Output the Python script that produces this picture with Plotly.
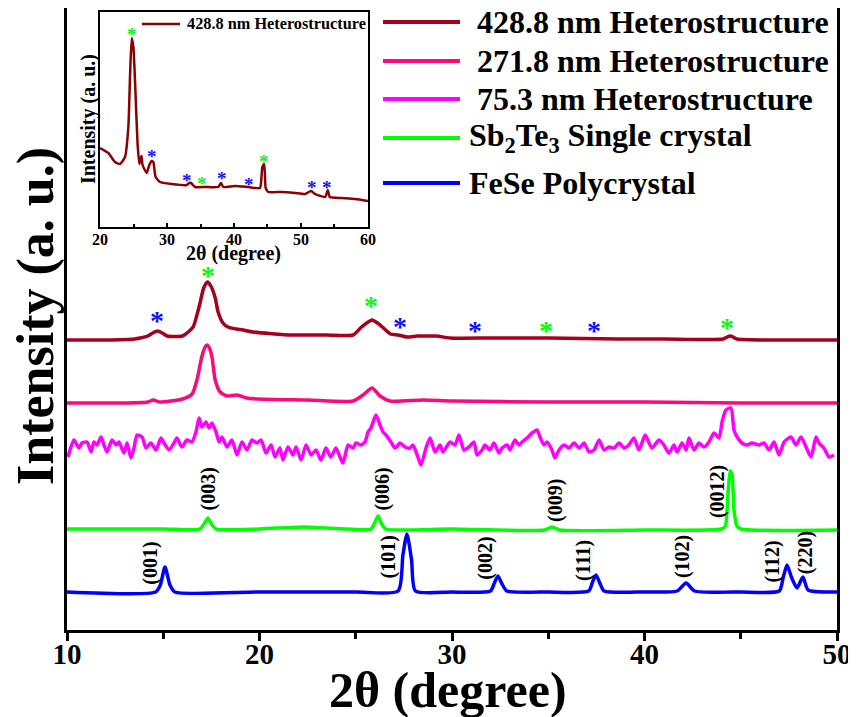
import plotly.graph_objects as go

FONT = "Liberation Serif"

# ---------------- main panel data (2θ in degree, stacked intensity a.u.) ----------------
x_428 = [10.0, 12.0, 13.5, 13.8, 14.2, 14.45, 14.7, 14.95, 15.2, 16.0, 16.55, 16.75, 16.9, 17.1,
         17.3, 17.5, 17.7, 17.85, 18.1, 18.36, 18.8, 19.15, 19.66, 21.7, 23.5, 24.86, 25.3, 25.85,
         26.26, 26.8, 27.2, 27.66, 28.2, 28.7, 29.2, 29.9, 32.0, 35.0, 38.6, 41.0, 44.1, 44.3, 44.45,
         44.6, 44.8, 47.0, 50.0]
y_428 = [290, 290, 291, 292, 294, 297, 299, 297, 294, 294, 303, 315, 326, 342,
         348, 343, 332, 318, 307, 303, 301, 300, 298, 295, 295, 295, 303, 310,
         305, 296, 295, 293, 294, 294, 294, 292, 292, 292, 291, 291, 291, 293, 294,
         293, 291, 290, 290]

x_271 = [10.0, 13.0, 14.2, 14.47, 14.8, 16.0, 16.5, 16.75, 17.0, 17.15, 17.27, 17.4, 17.53, 17.7,
         17.95, 18.3, 18.83, 19.35, 20.0, 22.5, 24.86, 25.38, 25.85, 26.26, 26.78, 28.5, 30.0, 35.0,
         40.0, 45.0, 50.0]
y_271 = [227, 227, 228, 230, 228, 231, 236, 250, 273, 282, 285, 282, 273, 250,
         238, 234, 235, 232, 231, 230, 229, 235, 242, 234, 229, 230, 229, 228,
         228, 227, 227]

x_75 = [10.05, 10.36, 10.62, 10.78, 11.04, 11.25, 11.40, 11.56, 11.77, 11.92, 12.08, 12.34, 12.55,
        12.70, 12.96, 13.12, 13.32, 13.48, 13.64, 13.90, 14.10, 14.36, 14.62, 14.88, 15.04, 15.30,
        15.56, 15.71, 15.97, 16.23, 16.49, 16.70, 16.86, 17.01, 17.22, 17.38, 17.53, 17.74, 17.90,
        18.05, 18.31, 18.57, 18.83, 19.09, 19.35, 19.61, 19.87, 20.08, 20.34, 20.60, 20.81, 21.06,
        21.22, 21.48, 21.74, 21.90, 22.16, 22.42, 22.68, 22.94, 23.19, 23.45, 23.71, 23.97, 24.18,
        24.34, 24.60, 24.86, 25.01, 25.27, 25.48, 25.64, 25.79, 26.05, 26.26, 26.42, 26.57, 26.83,
        27.04, 27.30, 27.56, 27.82, 27.97, 28.23, 28.39, 28.65, 28.86, 29.12, 29.38, 29.53, 29.90,
        30.16, 30.36, 30.62, 30.88, 31.14, 31.30, 31.56, 31.71, 31.97, 32.18, 32.44, 32.60, 32.86,
        33.01, 33.27, 33.48, 33.64, 33.90, 34.16, 34.42, 34.57, 34.78, 34.94, 35.19, 35.35, 35.56,
        35.82, 36.08, 36.34, 36.60, 36.86, 37.12, 37.38, 37.64, 37.90, 38.16, 38.42, 38.68, 38.94,
        39.19, 39.45, 39.71, 40.03, 40.13, 40.39, 40.75, 41.01, 41.27, 41.53, 41.69, 41.95, 42.16,
        42.31, 42.57, 42.83, 43.09, 43.35, 43.61, 43.87, 44.03, 44.23, 44.49, 44.65, 44.81, 45.06,
        45.32, 45.58, 45.95, 46.21, 46.47, 46.73, 46.99, 47.25, 47.61, 47.87, 48.13, 48.39, 48.65,
        48.91, 49.06, 49.32, 49.58, 49.84]
y_75 = [173, 190, 182, 187, 188, 178, 188, 185, 193, 185, 178, 190, 185,
        188, 177, 187, 172, 182, 195, 193, 182, 187, 180, 192, 187, 180,
        187, 192, 183, 190, 188, 198, 212, 203, 208, 202, 207, 198, 188,
        193, 183, 190, 175, 188, 180, 190, 187, 190, 177, 185, 173, 182,
        170, 183, 175, 183, 170, 185, 175, 180, 170, 182, 173, 182, 173,
        167, 185, 182, 187, 185, 188, 198, 202, 215, 205, 198, 195, 188,
        182, 187, 183, 182, 185, 173, 165, 182, 192, 178, 185, 178, 188,
        185, 195, 180, 183, 188, 175, 180, 185, 180, 187, 177, 182, 185,
        180, 190, 185, 188, 192, 197, 200, 193, 185, 188, 180, 172, 180,
        185, 182, 187, 182, 187, 178, 180, 190, 180, 183, 182, 187, 182,
        185, 192, 180, 195, 192, 182, 190, 185, 177, 185, 178, 187, 180,
        192, 180, 187, 183, 188, 197, 192, 208, 220, 222, 200, 193, 187,
        185, 187, 185, 187, 180, 188, 175, 188, 193, 185, 193, 183, 173,
        193, 187, 182, 173, 175]

x_sb = [10.0, 15.0, 16.9, 17.15, 17.32, 17.5, 17.75, 20.0, 22.3, 24.5, 25.8, 26.0, 26.16, 26.32,
        26.55, 30.0, 34.8, 35.2, 35.6, 40.0, 44.0, 44.2, 44.35, 44.45, 44.55, 44.65, 44.8, 45.0, 50.0]
y_sb = [101, 101, 101, 107, 112, 106, 101, 101, 103, 101, 101, 108, 114, 107,
        101, 101, 100, 103, 100, 100, 101, 104, 140, 159, 155, 120, 104, 101, 100]

x_fese = [10.0, 14.6, 14.85, 15.09, 15.35, 15.6, 20.0, 25.0, 27.2, 27.45, 27.66, 27.9, 28.1, 30.0,
          32.0, 32.2, 32.39, 32.6, 32.85, 35.0, 37.1, 37.3, 37.48, 37.7, 37.9, 40.0, 41.7, 42.16,
          42.6, 45.0, 47.0, 47.2, 47.4, 47.65, 47.92, 48.23, 48.5, 50.0]
y_fese = [38, 38, 45, 63, 45, 38, 38, 38, 39, 75, 96, 70, 39, 38,
          39, 47, 54, 46, 39, 38, 39, 48, 55, 46, 39, 38, 39, 47,
          39, 38, 39, 52, 65, 52, 42, 53, 40, 38]

# asterisk markers on the 428.8 nm pattern
star_blue_x = [14.68, 27.3, 31.2, 37.4]
star_blue_y = [312, 306, 302, 302]
star_green_x = [17.33, 25.8, 34.9, 44.3]
star_green_y = [357, 327, 302, 305]

# Miller indices
hkl_sb = ["(003)", "(006)", "(009)", "(0012)"]
hkl_sb_x = [17.35, 26.34, 35.35, 43.77]
hkl_sb_y = [141, 141, 130, 138]
hkl_fese = ["(001)", "(101)", "(002)", "(111)", "(102)", "(112)", "(220)"]
hkl_fese_x = [14.3, 26.7, 31.7, 36.8, 41.95, 46.6, 48.35]
hkl_fese_y = [67, 73, 72, 70, 73, 68, 77]

# ---------------- inset data ----------------
x_in = [20.0, 21.24, 22.24, 22.99, 23.73, 24.23, 24.48, 24.73, 24.98, 25.3, 25.6, 25.87, 26.05,
        26.2, 26.35, 26.97, 27.36, 27.7, 27.96, 28.3, 28.96, 30.7, 32.94, 33.3, 33.58, 34.18, 35.67,
        37.66, 38.06, 38.4, 40.15, 42.14, 43.88, 44.1, 44.23, 44.48, 44.6, 44.73, 45.12, 47.1, 49.1,
        50.6, 51.5, 52.1, 53.6, 54.0, 54.3, 56.1, 58.1, 60.0]
y_in = [79, 74, 65, 63, 70, 100, 150, 189, 180, 134, 84, 63, 68,
        71, 62, 54, 62, 66, 65, 50, 45, 43, 42, 44, 44, 40, 40,
        40, 44, 40, 41, 40, 39, 50, 60, 63, 55, 39, 35, 35, 34,
        33, 36, 33, 30, 37, 30, 29, 28, 26]
in_star_green_x = [24.73, 35.2, 44.48]
in_star_green_y = [194, 46, 68]
in_star_blue_x = [27.8, 32.94, 38.2, 42.24, 51.6, 53.9]
in_star_blue_y = [73, 49, 51, 45, 42, 42]

series = [
    ("428.8 nm Heterostructure", x_428, y_428, "#A5001E", True),
    ("271.8 nm Heterostructure", x_271, y_271, "#FA0A7D", True),
    ("75.3 nm Heterostructure", x_75, y_75, "#FF00FF", True),
    ("Sb<sub>2</sub>Te<sub>3</sub> Single crystal", x_sb, y_sb, "#00FF00", False),
    ("FeSe Polycrystal", x_fese, y_fese, "#0000FF", False),
]
BLUE_STAR = "#1010FF"
GREEN_STAR = "#00FF00"

fig = go.Figure()
for name, xs, ys, col, _ in reversed(series):
    fig.add_trace(go.Scatter(x=xs, y=ys, mode="lines", name=name, showlegend=False,
                             line=dict(color=col, width=3.5, shape="spline", smoothing=0.6)))

# inset trace
fig.add_trace(go.Scatter(x=x_in, y=y_in, mode="lines", name="428.8 nm Heterostructure",
                         xaxis="x2", yaxis="y2", showlegend=False,
                         line=dict(color="#8B0000", width=2.5, shape="spline", smoothing=0.5)))

annotations = []


def star(x, y, col, size, xref, yref, shift):
    return dict(x=x, y=y, xref=xref, yref=yref, text="*", showarrow=False, yshift=shift,
                font=dict(family=FONT, size=size, color=col, weight="bold"))


for xx, yy in zip(star_blue_x, star_blue_y):
    annotations.append(star(xx, yy, BLUE_STAR, 28, "x", "y", -2))
for xx, yy in zip(star_green_x, star_green_y):
    annotations.append(star(xx, yy, GREEN_STAR, 28, "x", "y", -2))
for xx, yy in zip(in_star_blue_x, in_star_blue_y):
    annotations.append(star(xx, yy, BLUE_STAR, 19, "x2", "y2", -2))
for xx, yy in zip(in_star_green_x, in_star_green_y):
    annotations.append(star(xx, yy, GREEN_STAR, 19, "x2", "y2", -2))

for lab, xx, yy in zip(hkl_sb + hkl_fese, hkl_sb_x + hkl_fese_x, hkl_sb_y + hkl_fese_y):
    annotations.append(dict(x=xx, y=yy, xref="x", yref="y", text=lab, showarrow=False,
                            textangle=-90, font=dict(family=FONT, size=20, color="black", weight="bold")))

# manual legend (long line samples)
leg_y = [0.9775, 0.9148, 0.8537, 0.7910, 0.7186]
shapes = []
for (name, _, _, col, pad), ly in zip(series, leg_y):
    shapes.append(dict(type="line", xref="paper", yref="paper", x0=0.4104, x1=0.5104, y0=ly, y1=ly,
                       line=dict(color=col, width=4)))
    annotations.append(dict(x=0.5195, y=ly, xref="paper", yref="paper", xanchor="left", yanchor="middle",
                            text=("\u00a0" + name) if pad else name, showarrow=False,
                            font=dict(family=FONT, size=32, color="black", weight="bold")))
# inset legend
shapes.append(dict(type="line", xref="paper", yref="paper", x0=0.0974, x1=0.1468, y0=0.9743, y1=0.9743,
                   line=dict(color="#8B0000", width=2.5)))
annotations.append(dict(x=0.1532, y=0.9743, xref="paper", yref="paper", xanchor="left", yanchor="middle",
                        text="428.8 nm Heterostructure", showarrow=False,
                        font=dict(family=FONT, size=16.3, color="black", weight="bold")))

# axis titles
annotations.append(dict(x=0.4948, y=-0.0965, xref="paper", yref="paper", xanchor="center",
                        yanchor="middle", text="2θ (degree)", showarrow=False,
                        font=dict(family=FONT, size=50, color="black", weight="bold")))
annotations.append(dict(x=-0.0403, y=0.5048, xref="paper", yref="paper", xanchor="center",
                        yanchor="middle", text="Intensity (a. u.)", showarrow=False, textangle=-90,
                        font=dict(family=FONT, size=52, color="black", weight="bold")))
annotations.append(dict(x=0.2156, y=0.6061, xref="paper", yref="paper", xanchor="center",
                        yanchor="middle", text="2θ (degree)", showarrow=False,
                        font=dict(family=FONT, size=20, color="black", weight="bold")))
annotations.append(dict(x=0.0273, y=0.8215, xref="paper", yref="paper", xanchor="center",
                        yanchor="middle", text="Intensity (a. u.)", showarrow=False, textangle=-90,
                        font=dict(family=FONT, size=20, color="black", weight="bold")))

fig.update_layout(
    width=848, height=711,
    margin=dict(l=59, r=19, t=0, b=89),
    paper_bgcolor="white", plot_bgcolor="white",
    showlegend=False,
    xaxis=dict(range=[10, 50], domain=[0, 1], tick0=10, dtick=10, showline=True, linewidth=3,
               linecolor="black", mirror=True, ticks="outside", ticklen=8, tickwidth=3, tickcolor="black",
               minor=dict(dtick=5, ticks="outside", ticklen=6, tickwidth=3, tickcolor="black"),
               showgrid=False, zeroline=False, automargin=False, ticklabelstandoff=-12,
               tickfont=dict(family=FONT, size=29, color="black", weight="bold")),
    yaxis=dict(range=[0, 622], domain=[0, 1], showline=True, linewidth=3, linecolor="black", mirror=True,
               showticklabels=False, ticks="", showgrid=False, zeroline=False, automargin=False),
    xaxis2=dict(range=[20, 60], domain=[0.04286, 0.3909], anchor="y2", tick0=20, dtick=10,
                showline=True, linewidth=2, linecolor="black", mirror=True, ticks="inside", ticklen=4,
                tickwidth=1.5, tickcolor="black",
                minor=dict(dtick=5, ticks="inside", ticklen=3, tickwidth=1.5, tickcolor="black"),
                showgrid=False, zeroline=False, automargin=False, ticklabelstandoff=-3,
                tickfont=dict(family=FONT, size=16, color="black", weight="bold")),
    yaxis2=dict(range=[0, 215], domain=[0.6479, 0.9936], anchor="x2", showline=True, linewidth=2,
                linecolor="black", mirror=True, showticklabels=False, ticks="", showgrid=False,
                zeroline=False, automargin=False),
    annotations=annotations,
    shapes=shapes,
)

fig.write_html("out.html")
